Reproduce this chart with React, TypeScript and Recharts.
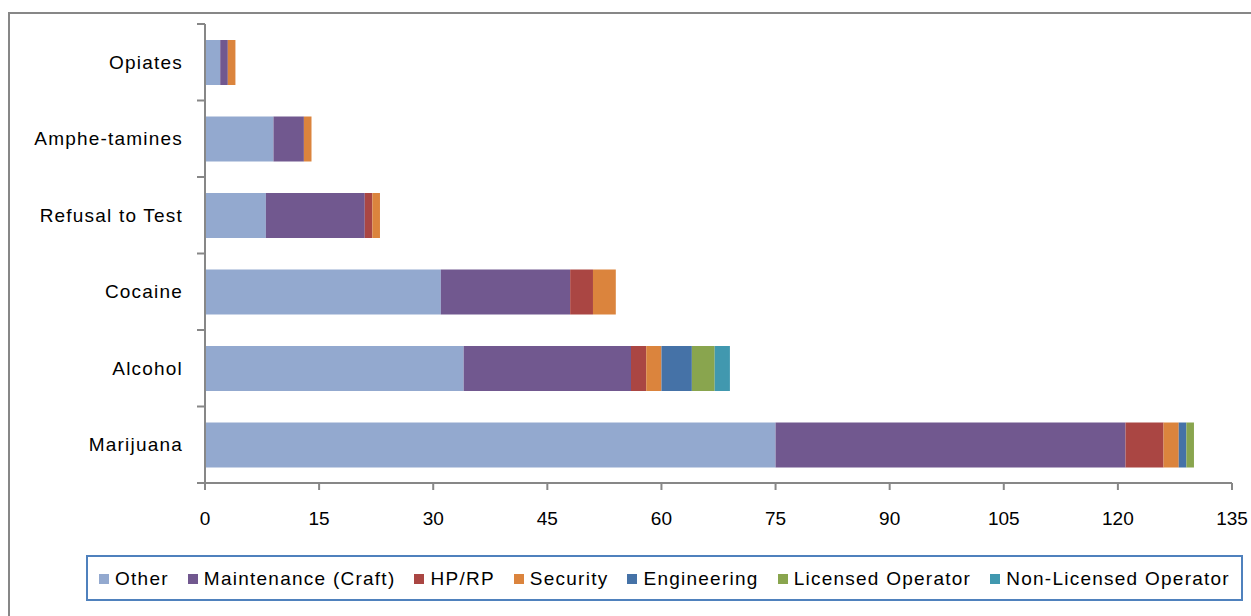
import React from 'react';
import { BarChart, Bar, XAxis, YAxis, Legend } from 'recharts';

const categories = ['Opiates', 'Amphe-tamines', 'Refusal to Test', 'Cocaine', 'Alcohol', 'Marijuana'];
const seriesNames = ['Other', 'Maintenance (Craft)', 'HP/RP', 'Security', 'Engineering', 'Licensed Operator', 'Non-Licensed Operator'];
const seriesKeys = ['other', 'maintenance', 'hprp', 'security', 'engineering', 'licensed', 'nonLicensed'];
const seriesColors = ['#93A9CF', '#71588F', '#AA4643', '#DB843D', '#4572A7', '#89A54E', '#4198AF'];

const other = [2, 9, 8, 31, 34, 75];
const maintenance = [1, 4, 13, 17, 22, 46];
const hprp = [0, 0, 1, 3, 2, 5];
const security = [1, 1, 1, 3, 2, 2];
const engineering = [0, 0, 0, 0, 4, 1];
const licensed = [0, 0, 0, 0, 3, 1];
const nonLicensed = [0, 0, 0, 0, 2, 0];
const xTicks = [0, 15, 30, 45, 60, 75, 90, 105, 120, 135];

const seriesValues = [other, maintenance, hprp, security, engineering, licensed, nonLicensed];

const data = categories.map((name, i) => {
  const row: Record<string, number | string> = { name };
  seriesKeys.forEach((k, s) => {
    row[k] = seriesValues[s][i];
  });
  return row;
});

const W = 1251;
const H = 616;
const M_TOP = 24;
const M_RIGHT = 19;
const M_LEFT = 25;
const Y_W = 180;
const X_H = 60;
const M_BOTTOM = 73;
const FONT = '"Liberation Sans", Arial, sans-serif';
const AXIS = '#878787';
const Y_TICK_LEN = 8;
const Y_TICK_MARGIN = 14;
const HALF_BAND = (H - M_TOP - M_BOTTOM - X_H) / categories.length / 2;

const YTick = (props: any) => {
  const { x, y, payload, index, visibleTicksCount } = props;
  const axisX = x + Y_TICK_MARGIN + Y_TICK_LEN;
  const isLast = index === (visibleTicksCount ?? categories.length) - 1;
  return (
    <g>
      <text
        x={x}
        y={y}
        dy="0.355em"
        textAnchor="end"
        fill="#000"
        style={{ fontFamily: FONT, fontSize: 19, letterSpacing: 1.2 }}
      >
        {payload.value}
      </text>
      <line x1={axisX - Y_TICK_LEN} x2={axisX} y1={y - HALF_BAND} y2={y - HALF_BAND} stroke={AXIS} strokeWidth={2} />
      {isLast && (
        <line x1={axisX - Y_TICK_LEN} x2={axisX} y1={y + HALF_BAND} y2={y + HALF_BAND} stroke={AXIS} strokeWidth={2} />
      )}
    </g>
  );
};

const LegendContent = () => {
  return (
    <div
      style={{
        boxSizing: 'border-box',
        width: '100%',
        height: '100%',
        border: '2px solid #4F81BD',
        background: '#fff',
        display: 'flex',
        alignItems: 'center',
        justifyContent: 'center',
        fontFamily: FONT,
        fontSize: 19,
        letterSpacing: 1.25,
        color: '#000',
        gap: 19,
        paddingTop: 2,
      }}
    >
      {seriesNames.map((name, i) => (
        <div key={name} style={{ display: 'flex', alignItems: 'center', whiteSpace: 'nowrap' }}>
          <span style={{ display: 'inline-block', width: 10, height: 10, background: seriesColors[i], marginRight: 6 }} />
          <span>{name}</span>
        </div>
      ))}
    </div>
  );
};

export default function App() {
  return (
    <div style={{ position: 'relative', width: W, height: H, overflow: 'hidden', background: '#fff' }}>
      <style>{'html,body{margin:0;padding:0;overflow:hidden;background:#fff}'}</style>
      <div
        style={{
          position: 'absolute',
          left: 8,
          top: 12,
          width: 1400,
          height: 800,
          borderLeft: `2px solid ${AXIS}`,
          borderTop: `2px solid ${AXIS}`,
        }}
      />
      <div style={{ position: 'absolute', left: 0, top: 0 }}>
        <BarChart
          width={W}
          height={H}
          data={data}
          layout="vertical"
          barCategoryGap={16}
          margin={{ top: M_TOP, right: M_RIGHT, left: M_LEFT, bottom: M_BOTTOM }}
        >
          <XAxis
            type="number"
            domain={[0, 135]}
            ticks={xTicks}
            interval={0}
            height={X_H}
            tickSize={7}
            tickMargin={22}
            axisLine={{ stroke: AXIS, strokeWidth: 2 }}
            tickLine={{ stroke: AXIS, strokeWidth: 2 }}
            tick={{ fill: '#000', fontSize: 19, fontFamily: FONT }}
          />
          <YAxis
            type="category"
            dataKey="name"
            width={Y_W}
            interval={0}
            tickSize={Y_TICK_LEN}
            tickMargin={Y_TICK_MARGIN}
            tickLine={false}
            axisLine={{ stroke: AXIS, strokeWidth: 2 }}
            tick={<YTick />}
          />
          <Legend
            layout="horizontal"
            verticalAlign="middle"
            align="center"
            content={<LegendContent />}
            wrapperStyle={{ left: 86, top: 555, width: 1157, height: 46, right: 'auto', bottom: 'auto' }}
          />
          {seriesKeys.map((k, i) => (
            <Bar
              key={k}
              dataKey={k}
              name={seriesNames[i]}
              stackId="a"
              fill={seriesColors[i]}
              isAnimationActive={false}
            />
          ))}
        </BarChart>
      </div>
    </div>
  );
}
